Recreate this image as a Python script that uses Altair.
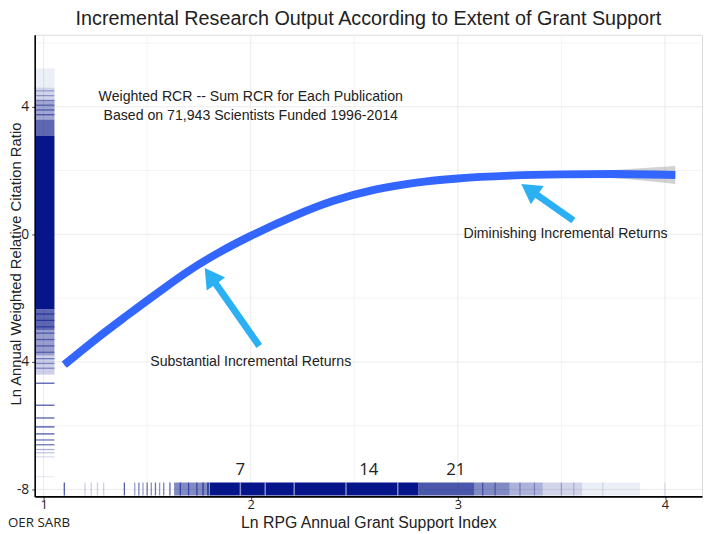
import altair as alt
import pandas as pd

TITLE = "Incremental Research Output According to Extent of Grant Support"
X_TITLE = "Ln RPG Annual Grant Support Index"
Y_TITLE = "Ln Annual Weighted Relative Citation Ratio"
SANS = "Liberation Sans, Arial, sans-serif"
OPEN = "Open Sans, Noto Sans, sans-serif"

# fitted smooth curve and its confidence band (half width)
fit_x = [1.10, 1.25, 1.40, 1.55, 1.70, 1.85, 2.00, 2.20, 2.40, 2.60, 2.80, 3.00, 3.25, 3.50, 3.75, 4.05]
fit_y = [-4.09, -3.30, -2.56, -1.84, -1.15, -0.56, -0.05, 0.55, 1.05, 1.40, 1.62, 1.75, 1.84, 1.88, 1.89, 1.86]
fit_se = [0.08, 0.05, 0.04, 0.03, 0.03, 0.03, 0.03, 0.03, 0.03, 0.03, 0.03, 0.03, 0.04, 0.07, 0.13, 0.28]

# axis ticks and grid
x_ticks = [1, 2, 3, 4]
y_ticks = [-8, -4, 0, 4]
x_grid_major = [1, 2, 3, 4]
x_grid_minor = [1.5, 2.5, 3.5]
y_grid_major = [-8, -4, 0, 4]
y_grid_minor = [-6, -2, 2, 6]

# left rug (y values): dense bands and single ticks
ly_lo = [4.6, 4.2, 3.6, 3.1, -2.35, -3.0, -3.8, -4.4]
ly_hi = [5.2, 4.6, 4.2, 3.6, 3.1, -2.35, -3.0, -3.8]
ly_op = [0.07, 0.18, 0.38, 0.65, 1.0, 0.65, 0.42, 0.2]
lt_y = [4.5, 4.35, 4.2, 4.05, 3.9, 3.75, -2.5, -2.7, -2.9, -3.1, -3.3, -3.5, -3.7, -3.9, -4.05, -4.2,
        -4.67, -5.36, -5.76, -6.04, -6.26, -6.45, -6.6, -6.75, -6.85, -6.98, -7.6]
lt_op = [0.3, 0.35, 0.4, 0.5, 0.55, 0.6, 0.6, 0.6, 0.5, 0.5, 0.5, 0.5, 0.45, 0.45, 0.4, 0.4,
         0.7, 0.7, 0.7, 0.75, 0.7, 0.6, 0.6, 0.35, 0.25, 0.15, 0.08]

# bottom rug (x values)
bx_lo = [1.63, 1.79, 2.81, 3.08, 3.25, 3.41, 3.6]
bx_hi = [1.79, 2.81, 3.08, 3.25, 3.41, 3.6, 3.88]
bx_op = [0.5, 1.0, 0.72, 0.5, 0.33, 0.18, 0.07]
bt_x = [1.10, 1.20, 1.23, 1.26, 1.29, 1.39, 1.44, 1.46, 1.48, 1.50, 1.52, 1.54, 1.56, 1.58,
        1.61, 1.66, 1.70, 1.74, 1.77, 3.12, 3.18, 3.3, 3.37, 3.5, 3.56, 3.7, 4.0]
bt_op = [0.7, 0.2, 0.2, 0.2, 0.2, 0.7, 0.4, 0.55, 0.4, 0.6, 0.5, 0.6, 0.45, 0.55,
         0.65, 0.6, 0.6, 0.6, 0.7, 0.5, 0.45, 0.35, 0.3, 0.25, 0.2, 0.12, 0.12]
gap_x = [1.80, 1.95, 2.07, 2.21, 2.46, 2.71]

# count labels above the bottom rug
count_text = ["7", "14", "21"]
count_x = [1.95, 2.57, 2.99]
count_y = [-7.38, -7.38, -7.38]

# annotations
note_text = ["Weighted RCR -- Sum RCR for Each Publication",
             "Based on 71,943 Scientists Funded 1996-2014",
             "Substantial Incremental Returns",
             "Diminishing Incremental Returns"]
note_x = [2.0, 2.0, 2.0, 3.52]
note_y = [4.31, 3.72, -4.0, 0.0]

arrow_x = [2.041, 3.558]
arrow_y = [-3.50, 0.434]
arrow_hx = [1.805, 3.345]
arrow_hy = [-1.31, 1.405]
arrow_ang = [325, 305]

XDOM = [0.957, 4.179]
YDOM = [-8.22, 6.26]
W, H = 675, 467
NAVY = "#06168a"
ARROW = "#2bb1f3"

xs = alt.Scale(domain=XDOM, nice=False, zero=False)
ys = alt.Scale(domain=YDOM, nice=False, zero=False)

xa = alt.Axis(values=x_ticks, title=X_TITLE, grid=False, labelExpr="'' + datum.value",
              labelFont=OPEN, labelFontSize=13, labelColor="#222", labelPadding=-1,
              tickSize=3, tickColor="#444", domainColor="#000", domainWidth=1.6,
              titleFont=SANS, titleFontSize=16, titleFontWeight="normal",
              titleColor="#222", titleY=26, titleBaseline="middle", zindex=1)
ya = alt.Axis(values=y_ticks, title=Y_TITLE, grid=False, labelExpr="'' + datum.value",
              labelFont=OPEN, labelFontSize=14, labelColor="#222", labelPadding=3,
              tickSize=3, tickColor="#444", domainColor="#000", domainWidth=1.6,
              titleFont=SANS, titleFontSize=15, titleFontWeight="normal",
              titleColor="#222", titleX=-19, titleY=H / 2 - 2, titleAngle=270,
              titleAlign="center", titleBaseline="middle", zindex=1)


def X(f):
    return alt.X(f, scale=xs, axis=xa)


def Y(f):
    return alt.Y(f, scale=ys, axis=ya)


fit = pd.DataFrame({"x": fit_x, "y": fit_y,
                    "lo": [a - b for a, b in zip(fit_y, fit_se)],
                    "hi": [a + b for a, b in zip(fit_y, fit_se)]})

gxM = alt.Chart(pd.DataFrame({"g": x_grid_major})).mark_rule(color="#ebebeb", strokeWidth=1).encode(
    x=X("g:Q"))
gxm = alt.Chart(pd.DataFrame({"g": x_grid_minor})).mark_rule(color="#f4f4f4", strokeWidth=1).encode(
    x=X("g:Q"))
gyM = alt.Chart(pd.DataFrame({"g": y_grid_major})).mark_rule(color="#ebebeb", strokeWidth=1).encode(
    y=Y("g:Q"))
gym = alt.Chart(pd.DataFrame({"g": y_grid_minor})).mark_rule(color="#f4f4f4", strokeWidth=1).encode(
    y=Y("g:Q"))

lband = alt.Chart(pd.DataFrame({"lo": ly_lo, "hi": ly_hi, "op": ly_op})).mark_rect(color=NAVY).encode(
    y=Y("lo:Q"), y2="hi:Q",
    x=alt.value(1), x2=alt.value(20),
    opacity=alt.Opacity("op:Q", scale=None))
lticks = alt.Chart(pd.DataFrame({"y": lt_y, "op": lt_op})).mark_rule(color=NAVY, strokeWidth=1.3).encode(
    y=Y("y:Q"), x=alt.value(1), x2=alt.value(20),
    opacity=alt.Opacity("op:Q", scale=None))

bband = alt.Chart(pd.DataFrame({"lo": bx_lo, "hi": bx_hi, "op": bx_op})).mark_rect(color=NAVY).encode(
    x=X("lo:Q"), x2="hi:Q",
    y=alt.value(H - 14), y2=alt.value(H - 1),
    opacity=alt.Opacity("op:Q", scale=None))
bticks = alt.Chart(pd.DataFrame({"x": bt_x, "op": bt_op})).mark_rule(color=NAVY, strokeWidth=1.3).encode(
    x=X("x:Q"), y=alt.value(H - 14), y2=alt.value(H - 1),
    opacity=alt.Opacity("op:Q", scale=None))
bgaps = alt.Chart(pd.DataFrame({"x": gap_x})).mark_rule(color="white", strokeWidth=1.5, opacity=0.5).encode(
    x=X("x:Q"), y=alt.value(H - 14), y2=alt.value(H - 1))

band = alt.Chart(fit).mark_area(color="#9a9a9a", opacity=0.45, interpolate="monotone").encode(
    x=X("x:Q"), y=Y("lo:Q"), y2="hi:Q")

line = alt.Chart(fit).mark_line(color="#3366ff", strokeWidth=8, interpolate="monotone").encode(
    x=X("x:Q"), y=Y("y:Q"))

counts = alt.Chart(pd.DataFrame({"x": count_x, "y": count_y, "t": count_text})).mark_text(
    font=OPEN, fontSize=17, color="#222", baseline="middle").encode(
    x=X("x:Q"), y=Y("y:Q"), text="t:N")

notes = alt.Chart(pd.DataFrame({"x": note_x, "y": note_y, "t": note_text})).mark_text(
    font=SANS, fontSize=14.3, color="#222", baseline="middle").encode(
    x=X("x:Q"), y=Y("y:Q"), text="t:N")

arrows_df = pd.DataFrame({"x": arrow_x, "y": arrow_y, "hx": arrow_hx, "hy": arrow_hy, "a": arrow_ang})
shafts = alt.Chart(arrows_df).mark_rule(color=ARROW, strokeWidth=7).encode(
    x=X("x:Q"), y=Y("y:Q"), x2="hx:Q", y2="hy:Q")
heads = alt.Chart(arrows_df).mark_point(shape="triangle-up", filled=True, size=520, color=ARROW, opacity=1).encode(
    x=X("hx:Q"), y=Y("hy:Q"),
    angle=alt.Angle("a:Q", scale=None))

oer = alt.Chart(pd.DataFrame({"t": ["OER SARB"]})).mark_text(
    font=OPEN, fontSize=13.5, color="#222", align="left", baseline="middle").encode(
    text="t:N", x=alt.value(-27), y=alt.value(H + 27))

chart = alt.layer(gxm, gym, gxM, gyM, lband, lticks, bband, bticks, bgaps, band, line,
                  counts, notes, shafts, heads, oer).properties(
    width=W, height=H,
    title=alt.TitleParams(TITLE, font=SANS, fontSize=20, fontWeight="normal", color="#222",
                          anchor="middle", frame="group", offset=5),
    padding={"left": 27, "top": 24, "right": 2, "bottom": 35},
    autosize=alt.AutoSizeParams(type="none"),
).configure_view(stroke="#dcdcdc", strokeWidth=1)

chart.save("out.html", embed_options={"renderer": "svg", "actions": False})
